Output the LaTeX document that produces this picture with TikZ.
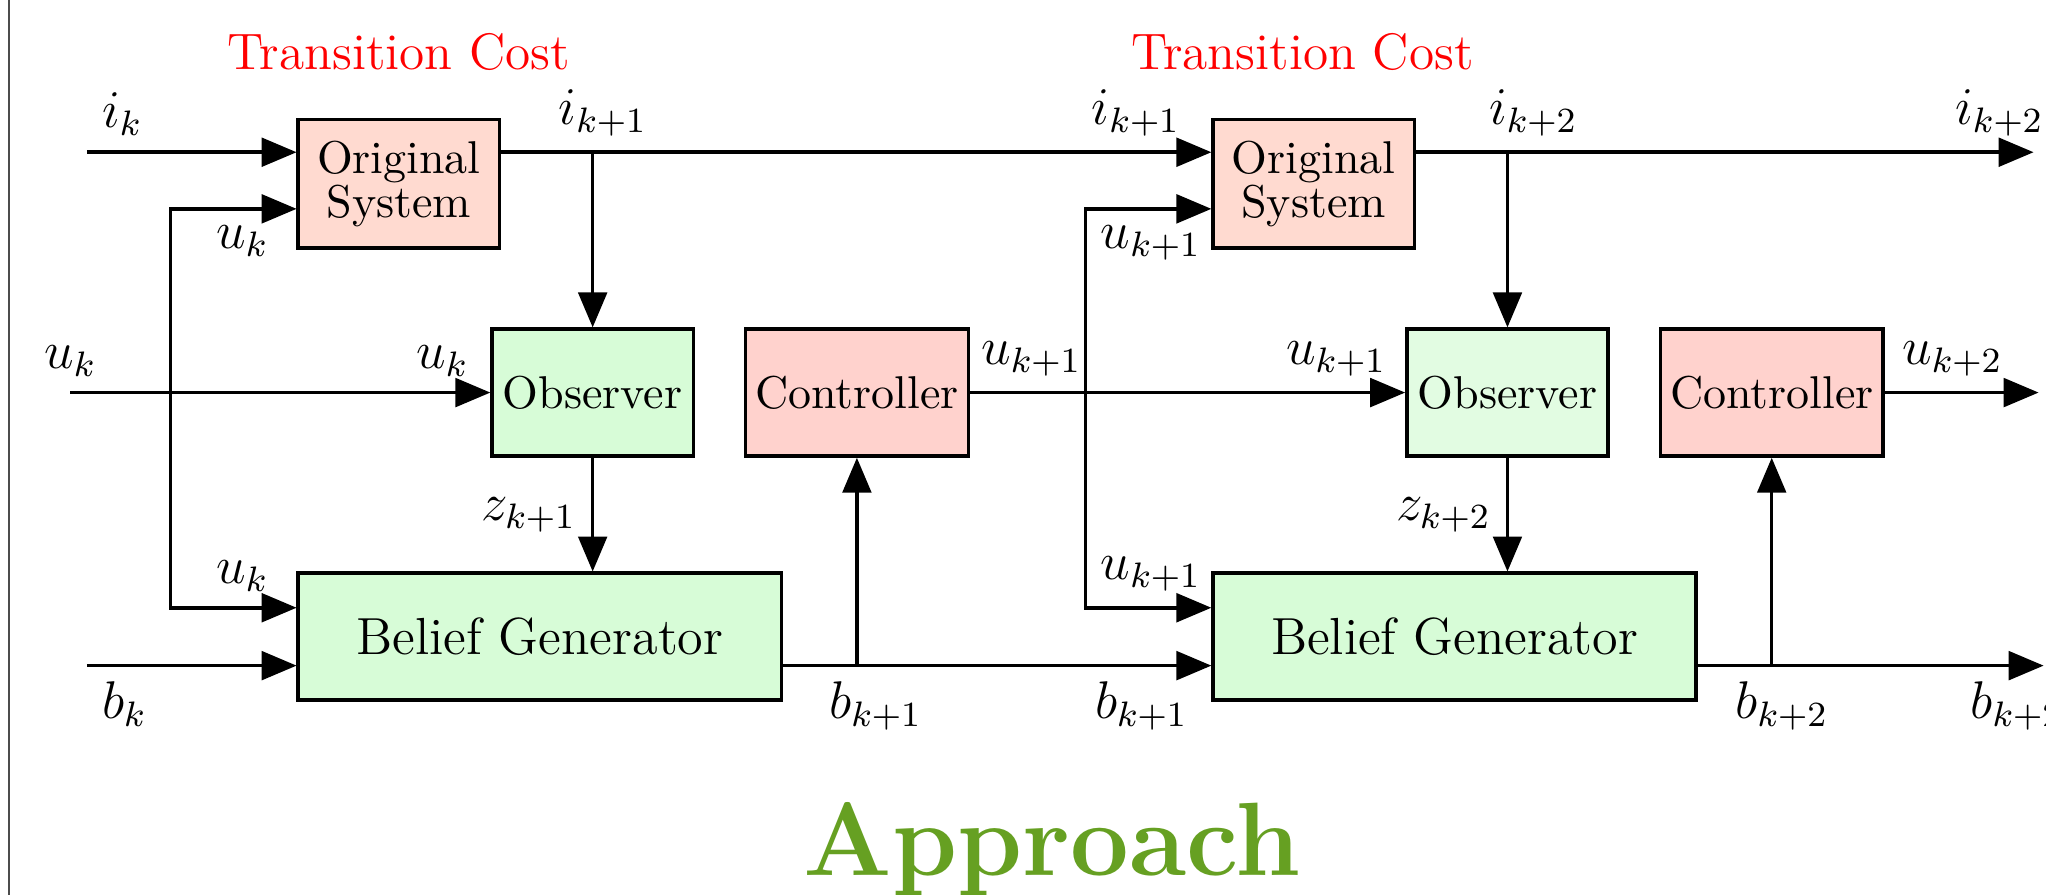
\documentclass[tikz,border=0pt]{standalone}
\usepackage{tikz}
\usetikzlibrary{arrows}

\definecolor{sysfill}{RGB}{255,218,208}
\definecolor{ctrlfill}{RGB}{255,210,205}
\definecolor{obsfill}{RGB}{215,252,215}
\definecolor{obsfillb}{RGB}{226,252,226}
\definecolor{headgreen}{RGB}{102,160,34}

\tikzset{
  blk/.style={draw, thick, minimum height=1.01cm, align=center, inner sep=1pt,
    font=\fontsize{10.4}{12.5}\selectfont},
  sysblk/.style={blk, fill=sysfill, minimum width=1.6cm, minimum height=1.02cm},
  obsblk/.style={blk, fill=obsfill, minimum width=1.6cm},
  ctrlblk/.style={blk, fill=ctrlfill, minimum width=1.77cm},
  belblk/.style={blk, fill=obsfill, minimum width=3.84cm, font=\fontsize{11.8}{14}\selectfont},
  sig/.style={thick, -triangle 45, nodes={font=\large}},
  bus/.style={thick, triangle 45-triangle 45, nodes={font=\large}},
  cost/.style={text=red, anchor=base, font=\fontsize{11.6}{14}\selectfont}
}

\begin{document}
\begin{tikzpicture}
  \useasboundingbox (0,0) rectangle (16.26,7.11);
  \draw[black!70, line width=0.5pt] (0.07,0) -- (0.07,7.11);

  % stage k
  \node[sysblk] (os1) at (3.17,5.65) {Original\\[-2.5pt]System};
  \node[obsblk] (obs1) at (4.71,3.99) {Observer};
  \node[ctrlblk] (ctrl1) at (6.81,3.99) {Controller};
  \node[belblk] (bg1) at (4.29,2.05) {Belief Generator};
  \node[cost] (cost1) at (3.17,6.56) {Transition Cost};

  % stage k+1
  \begin{scope}[xshift=7.27cm]
    \node[sysblk] (os2) at (3.17,5.65) {Original\\[-2.5pt]System};
    \node[obsblk, fill=obsfillb] (obs2) at (4.71,3.99) {Observer};
    \node[ctrlblk] (ctrl2) at (6.81,3.99) {Controller};
    \node[belblk] (bg2) at (4.29,2.05) {Belief Generator};
    \node[cost] (cost2) at (3.08,6.56) {Transition Cost};
  \end{scope}

  % loose ends
  \coordinate (ik) at (0.69,5.90);
  \coordinate (uk) at (0.56,3.99);
  \coordinate (bk) at (0.69,1.82);
  \coordinate (iout) at (16.16,5.90);
  \coordinate (uout) at (16.20,3.99);
  \coordinate (bout) at (16.24,1.82);

  % information state
  \draw[sig] (ik) -- node[above, pos=0.17] {$i_k$} (ik -| os1.west);
  \draw[sig] (ik -| os1.east) -- node[above, pos=0.143] {$i_{k+1}$}
     node[above, pos=0.894] {$i_{k+1}$} (ik -| os2.west);
  \draw[sig] (ik -| os2.east) -- node[above, pos=0.19] {$i_{k+2}$}
     node[above, pos=0.945] {$i_{k+2}$} (iout);
  \draw[sig] (obs1.north |- ik) -- (obs1.north);
  \draw[sig] (obs2.north |- ik) -- (obs2.north);

  % controls
  \draw[sig] (uk) node[above] {$u_k$} -- node[above, pos=0.886] {$u_k$} (obs1.west);
  \draw[bus] ([yshift=-0.2cm]os1.west) -- node[below, pos=0.43] {$u_k$} ++(-1,0)
     |- node[above, pos=0.785] {$u_k$} ([yshift=0.23cm]bg1.west);
  \draw[bus] ([yshift=-0.2cm]os2.west) -- node[below, pos=0.48] {$u_{k+1}$} ++(-1,0)
     |- node[above, pos=0.76] {$u_{k+1}$} ([yshift=0.23cm]bg2.west);
  \draw[sig] (ctrl1.east) -- node[above, pos=0.141] {$u_{k+1}$}
     node[above, pos=0.842] {$u_{k+1}$} (obs2.west);
  \draw[sig] (ctrl2.east) -- node[above, pos=0.44] {$u_{k+2}$} (uout);

  % observations
  \draw[sig] (obs1.south) -- node[left] {$z_{k+1}$} (obs1.south |- bg1.north);
  \draw[sig] (obs2.south) -- node[left] {$z_{k+2}$} (obs2.south |- bg2.north);

  % beliefs
  \draw[sig] (bk) -- node[below, pos=0.18] {$b_k$} (bk -| bg1.west);
  \draw[sig] (bk -| bg1.east) -- node[below, pos=0.216] {$b_{k+1}$}
     node[below, pos=0.837] {$b_{k+1}$} (bk -| bg2.west);
  \draw[sig] (bk -| bg2.east) -- node[below, pos=0.243] {$b_{k+2}$}
     node[below, pos=0.923] {$b_{k+2}$} (bout);
  \draw[sig] (ctrl1.south |- bk) -- (ctrl1.south);
  \draw[sig] (ctrl2.south |- bk) -- (ctrl2.south);

  \node[text=headgreen, anchor=base, font=\fontsize{23.6}{28}\selectfont\bfseries] (title) at (8.36,0.15) {Approach};
\end{tikzpicture}
\end{document}
